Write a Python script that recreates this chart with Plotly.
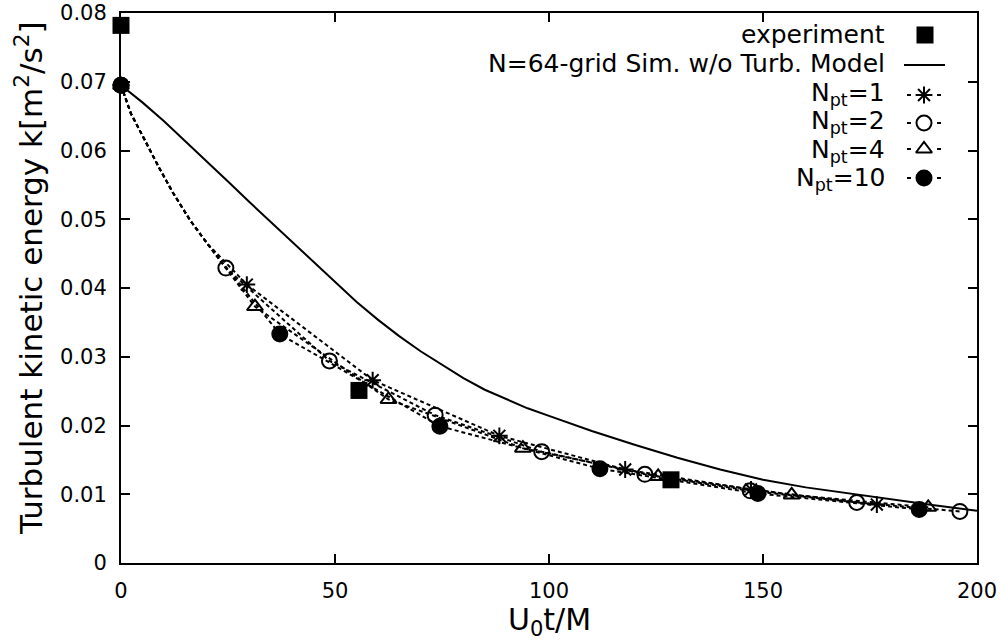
import plotly.graph_objects as go

# Experimental decay of turbulent kinetic energy
exp_x = [0.0, 55.6, 128.5]
exp_y = [0.0782, 0.0251, 0.0121]

# N=64 grid simulation without turbulence model
sim_x = [0, 5, 10, 15, 20, 25, 30, 35, 40, 45, 50, 55, 60, 65, 70, 75, 80, 85,
         90, 95, 100, 110, 120, 130, 140, 150, 160, 170, 180, 190, 200]
sim_y = [0.0695, 0.0670, 0.0643, 0.0614, 0.0585, 0.0555, 0.0525, 0.0496, 0.0466,
         0.0437, 0.0409, 0.0380, 0.0354, 0.0330, 0.0308, 0.0288, 0.0269, 0.0252,
         0.0238, 0.0225, 0.0214, 0.0192, 0.0172, 0.0153, 0.0136, 0.0121, 0.0110,
         0.0101, 0.0092, 0.0084, 0.0076]

# Early part of the N_pt curves (dense output before the first symbol)
early_x = [0.0, 2.3, 5.4, 8.9, 12.1, 16.1, 20.1]
early_y = [0.0695, 0.0654, 0.0617, 0.0575, 0.0539, 0.0499, 0.0465]

# N_pt = 1
npt1_x = [0.0, 29.4, 58.8, 88.4, 117.8, 147.2, 176.6]
npt1_y = [0.0695, 0.0405, 0.0266, 0.0185, 0.0136, 0.0107, 0.0085]
# N_pt = 2
npt2_x = [0.0, 24.5, 48.7, 73.4, 98.3, 122.4, 147.0, 171.9, 196.0]
npt2_y = [0.0695, 0.0429, 0.0294, 0.0215, 0.0162, 0.0129, 0.0105, 0.0088, 0.0075]
# N_pt = 4
npt4_x = [0.0, 31.3, 62.5, 93.9, 125.5, 156.7, 188.6]
npt4_y = [0.0695, 0.0373, 0.0238, 0.0167, 0.0126, 0.0099, 0.0081]
# N_pt = 10
npt10_x = [0.0, 37.1, 74.5, 111.9, 148.8, 186.5]
npt10_y = [0.0695, 0.0333, 0.0199, 0.0137, 0.0101, 0.0078]

x_ticks = [0, 50, 100, 150, 200]
y_ticks = [0, 0.01, 0.02, 0.03, 0.04, 0.05, 0.06, 0.07, 0.08]
y_tick_text = ["0", "0.01", "0.02", "0.03", "0.04", "0.05", "0.06", "0.07", "0.08"]

FONT = "DejaVu Sans"
BLACK = "black"

fig = go.Figure()

# experiment
fig.add_trace(go.Scatter(x=exp_x, y=exp_y, mode="markers", cliponaxis=False,
                         marker=dict(symbol="square", size=17, color=BLACK),
                         showlegend=False))

# simulation without model
fig.add_trace(go.Scatter(x=sim_x, y=sim_y, mode="lines",
                         line=dict(color=BLACK, width=2), showlegend=False))

series = [
    (npt1_x, npt1_y, "asterisk-open", 14),
    (npt2_x, npt2_y, "circle-open", 15),
    (npt4_x, npt4_y, "triangle-up-open", 14),
    (npt10_x, npt10_y, "circle", 15),
]

for sx, sy, sym, size in series:
    first = sx[1]
    lx = [x for x in early_x if x < first] + sx[1:]
    ly = [y for x, y in zip(early_x, early_y) if x < first] + sy[1:]
    fig.add_trace(go.Scatter(x=lx, y=ly, mode="lines",
                             line=dict(color=BLACK, width=2, dash="4px,3px"),
                             showlegend=False))
for sx, sy, sym, size in series:
    fig.add_trace(go.Scatter(x=sx, y=sy, mode="markers", cliponaxis=False,
                             marker=dict(symbol=sym, size=size, color=BLACK,
                                         line=dict(color=BLACK, width=2)),
                             showlegend=False))

# key, drawn on an overlay axis measured in plot pixels
key_labels = ["experiment", "N=64-grid Sim. w/o Turb. Model",
              "N<sub>pt</sub>=1", "N<sub>pt</sub>=2", "N<sub>pt</sub>=4",
              "N<sub>pt</sub>=10"]
key_text_rows = [34.5, 63.5, 93.5, 121.5, 150.5, 178.5]
key_sym_rows = [35, 65, 95, 123, 149, 178]
key_text_right = 887
key_sym_x = 924

fig.add_trace(go.Scatter(x=[key_sym_x + 1], y=[key_sym_rows[0]], xaxis="x2", yaxis="y2",
                         mode="markers", cliponaxis=False,
                         marker=dict(symbol="square", size=17, color=BLACK),
                         showlegend=False))
fig.add_trace(go.Scatter(x=[key_sym_x - 20, key_sym_x + 21], y=[key_sym_rows[1]] * 2,
                         xaxis="x2", yaxis="y2", mode="lines", cliponaxis=False,
                         line=dict(color=BLACK, width=2), showlegend=False))
for (sx, sy, sym, size), row in zip(series, key_sym_rows[2:]):
    fig.add_trace(go.Scatter(x=[key_sym_x - 17, key_sym_x + 17], y=[row, row],
                             xaxis="x2", yaxis="y2", mode="lines", cliponaxis=False,
                             line=dict(color=BLACK, width=2, dash="4px,26px"),
                             showlegend=False))
    fig.add_trace(go.Scatter(x=[key_sym_x], y=[row], xaxis="x2", yaxis="y2",
                             mode="markers", cliponaxis=False,
                             marker=dict(symbol=sym, size=size, color=BLACK,
                                         line=dict(color=BLACK, width=2)),
                             showlegend=False))

annotations = []
for label, row in zip(key_labels, key_text_rows):
    annotations.append(dict(text=label, x=key_text_right, y=row, xref="x2", yref="y2",
                            xanchor="right", yanchor="middle", showarrow=False,
                            font=dict(family=FONT, size=25, color=BLACK)))

annotations.append(dict(text="Turbulent kinetic energy k[m<sup>2</sup>/s<sup>2</sup>]",
                        x=-0.1075, y=0.518, xref="paper", yref="paper",
                        xanchor="center", yanchor="middle", textangle=-90,
                        showarrow=False, font=dict(family=FONT, size=31, color=BLACK)))
annotations.append(dict(text="U<sub>0</sub>t/M", x=0.5, y=-0.107, xref="paper",
                        yref="paper", xanchor="center", yanchor="middle",
                        showarrow=False, font=dict(family=FONT, size=30, color=BLACK)))

axis_common = dict(showline=True, linewidth=2, linecolor=BLACK, mirror="ticks",
                   ticks="inside", ticklen=9, tickwidth=1.5, tickcolor=BLACK,
                   showgrid=False, zeroline=False, automargin=False,
                   tickfont=dict(family=FONT, size=21, color=BLACK))

fig.update_layout(
    width=1000, height=642,
    margin=dict(l=121, r=23, t=13, b=79),
    paper_bgcolor="white", plot_bgcolor="white",
    xaxis=dict(range=[0, 200], tickvals=x_ticks, ticklabelstandoff=8, **axis_common),
    yaxis=dict(range=[0, 0.08], tickvals=y_ticks, ticktext=y_tick_text,
               ticklabelstandoff=8, **axis_common),
    xaxis2=dict(overlaying="x", range=[121, 977], visible=False, fixedrange=True),
    yaxis2=dict(overlaying="y", range=[563, 13], visible=False, fixedrange=True),
    annotations=annotations,
    showlegend=False,
)

fig.write_html("out.html")
